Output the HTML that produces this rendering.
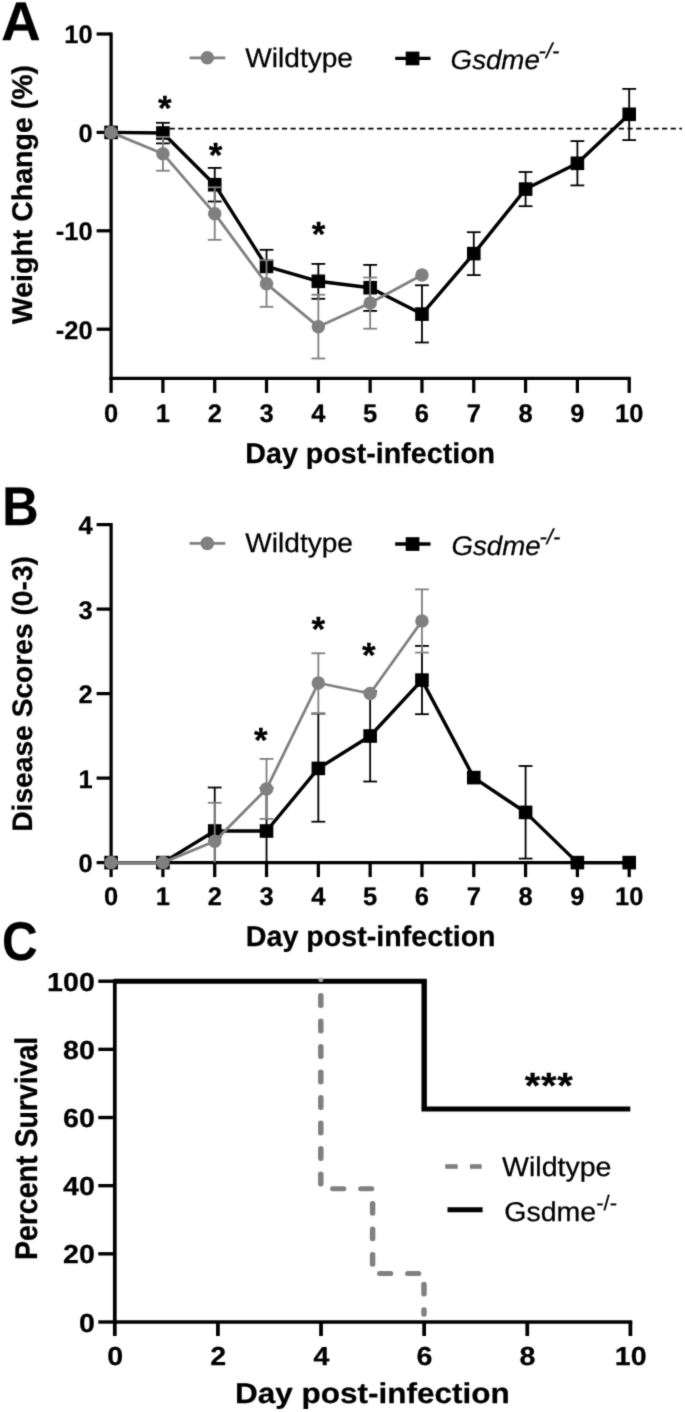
<!DOCTYPE html>
<html lang="en">
<head>
<meta charset="utf-8">
<title>Figure: weight change, disease scores and survival</title>
<style>
html,body{margin:0;padding:0;background:#fff;}
body{width:685px;height:1412px;overflow:hidden;}
svg{display:block;font-family:"Liberation Sans", Arial, Helvetica, sans-serif;will-change:transform;}
text{stroke:#000;stroke-width:0.25px;stroke-linejoin:round;}
</style>
</head>
<body>
<svg width="685" height="1412" viewBox="0 0 685 1412" shape-rendering="geometricPrecision" text-rendering="geometricPrecision">
<defs><filter id="soft" x="0" y="0" width="685" height="1412" filterUnits="userSpaceOnUse" color-interpolation-filters="sRGB"><feConvolveMatrix order="3" kernelMatrix="0.037 0.19 0.037 0.19 1 0.19 0.037 0.19 0.037" divisor="1.908" edgeMode="duplicate" preserveAlpha="true"/></filter></defs>
<g filter="url(#soft)">
<rect x="-5" y="-5" width="695" height="1422" fill="#fff"/>
<text transform="translate(1.30,40.00)" font-size="54.5" font-weight="bold" text-anchor="start" fill="#000" >A</text>
<text transform="translate(31.80,194.60) rotate(-90)" font-size="28.5" font-weight="bold" text-anchor="middle" fill="#000" >Weight Change (%)</text>
<line x1="111.10" y1="32.38" x2="111.10" y2="380.02" stroke="#000" stroke-width="3.25" />
<line x1="109.47" y1="378.40" x2="630.83" y2="378.40" stroke="#000" stroke-width="3.25" />
<line x1="96.60" y1="34.00" x2="111.10" y2="34.00" stroke="#000" stroke-width="3.25" />
<text transform="translate(92.60,43.40)" font-size="25.5" font-weight="bold" text-anchor="end" fill="#000" >10</text>
<line x1="96.60" y1="132.40" x2="111.10" y2="132.40" stroke="#000" stroke-width="3.25" />
<text transform="translate(92.60,141.80)" font-size="25.5" font-weight="bold" text-anchor="end" fill="#000" >0</text>
<line x1="96.60" y1="230.80" x2="111.10" y2="230.80" stroke="#000" stroke-width="3.25" />
<text transform="translate(92.60,240.20)" font-size="25.5" font-weight="bold" text-anchor="end" fill="#000" >-10</text>
<line x1="96.60" y1="329.20" x2="111.10" y2="329.20" stroke="#000" stroke-width="3.25" />
<text transform="translate(92.60,338.60)" font-size="25.5" font-weight="bold" text-anchor="end" fill="#000" >-20</text>
<line x1="111.10" y1="378.40" x2="111.10" y2="392.90" stroke="#000" stroke-width="3.25" />
<text transform="translate(111.10,422.10)" font-size="25.5" font-weight="bold" text-anchor="middle" fill="#000" >0</text>
<line x1="162.91" y1="378.40" x2="162.91" y2="392.90" stroke="#000" stroke-width="3.25" />
<text transform="translate(162.91,422.10)" font-size="25.5" font-weight="bold" text-anchor="middle" fill="#000" >1</text>
<line x1="214.72" y1="378.40" x2="214.72" y2="392.90" stroke="#000" stroke-width="3.25" />
<text transform="translate(214.72,422.10)" font-size="25.5" font-weight="bold" text-anchor="middle" fill="#000" >2</text>
<line x1="266.53" y1="378.40" x2="266.53" y2="392.90" stroke="#000" stroke-width="3.25" />
<text transform="translate(266.53,422.10)" font-size="25.5" font-weight="bold" text-anchor="middle" fill="#000" >3</text>
<line x1="318.34" y1="378.40" x2="318.34" y2="392.90" stroke="#000" stroke-width="3.25" />
<text transform="translate(318.34,422.10)" font-size="25.5" font-weight="bold" text-anchor="middle" fill="#000" >4</text>
<line x1="370.15" y1="378.40" x2="370.15" y2="392.90" stroke="#000" stroke-width="3.25" />
<text transform="translate(370.15,422.10)" font-size="25.5" font-weight="bold" text-anchor="middle" fill="#000" >5</text>
<line x1="421.96" y1="378.40" x2="421.96" y2="392.90" stroke="#000" stroke-width="3.25" />
<text transform="translate(421.96,422.10)" font-size="25.5" font-weight="bold" text-anchor="middle" fill="#000" >6</text>
<line x1="473.77" y1="378.40" x2="473.77" y2="392.90" stroke="#000" stroke-width="3.25" />
<text transform="translate(473.77,422.10)" font-size="25.5" font-weight="bold" text-anchor="middle" fill="#000" >7</text>
<line x1="525.58" y1="378.40" x2="525.58" y2="392.90" stroke="#000" stroke-width="3.25" />
<text transform="translate(525.58,422.10)" font-size="25.5" font-weight="bold" text-anchor="middle" fill="#000" >8</text>
<line x1="577.39" y1="378.40" x2="577.39" y2="392.90" stroke="#000" stroke-width="3.25" />
<text transform="translate(577.39,422.10)" font-size="25.5" font-weight="bold" text-anchor="middle" fill="#000" >9</text>
<line x1="629.20" y1="378.40" x2="629.20" y2="392.90" stroke="#000" stroke-width="3.25" />
<text transform="translate(629.20,422.10)" font-size="25.5" font-weight="bold" text-anchor="middle" fill="#000" >10</text>
<text transform="translate(370.20,463.00)" font-size="28.65" font-weight="bold" text-anchor="middle" fill="#000" >Day post-infection</text>
<line x1="160.98" y1="128.6" x2="682" y2="128.6" stroke="#000" stroke-width="1.7" stroke-dasharray="5.19 3.449"/>
<line x1="162.91" y1="122.80" x2="162.91" y2="143.40" stroke="#000" stroke-width="1.8" />
<line x1="156.01" y1="143.40" x2="169.81" y2="143.40" stroke="#000" stroke-width="1.8" />
<line x1="156.01" y1="122.80" x2="169.81" y2="122.80" stroke="#000" stroke-width="1.8" />
<line x1="214.72" y1="167.90" x2="214.72" y2="201.50" stroke="#000" stroke-width="1.8" />
<line x1="207.82" y1="201.50" x2="221.62" y2="201.50" stroke="#000" stroke-width="1.8" />
<line x1="207.82" y1="167.90" x2="221.62" y2="167.90" stroke="#000" stroke-width="1.8" />
<line x1="266.53" y1="249.80" x2="266.53" y2="266.40" stroke="#000" stroke-width="1.8" />
<line x1="259.63" y1="249.80" x2="273.43" y2="249.80" stroke="#000" stroke-width="1.8" />
<line x1="318.34" y1="263.90" x2="318.34" y2="298.80" stroke="#000" stroke-width="1.8" />
<line x1="311.44" y1="298.80" x2="325.24" y2="298.80" stroke="#000" stroke-width="1.8" />
<line x1="311.44" y1="263.90" x2="325.24" y2="263.90" stroke="#000" stroke-width="1.8" />
<line x1="370.15" y1="264.90" x2="370.15" y2="310.90" stroke="#000" stroke-width="1.8" />
<line x1="363.25" y1="310.90" x2="377.05" y2="310.90" stroke="#000" stroke-width="1.8" />
<line x1="363.25" y1="264.90" x2="377.05" y2="264.90" stroke="#000" stroke-width="1.8" />
<line x1="421.96" y1="285.30" x2="421.96" y2="342.50" stroke="#000" stroke-width="1.8" />
<line x1="415.06" y1="342.50" x2="428.86" y2="342.50" stroke="#000" stroke-width="1.8" />
<line x1="415.06" y1="285.30" x2="428.86" y2="285.30" stroke="#000" stroke-width="1.8" />
<line x1="473.77" y1="232.20" x2="473.77" y2="275.10" stroke="#000" stroke-width="1.8" />
<line x1="466.87" y1="275.10" x2="480.67" y2="275.10" stroke="#000" stroke-width="1.8" />
<line x1="466.87" y1="232.20" x2="480.67" y2="232.20" stroke="#000" stroke-width="1.8" />
<line x1="525.58" y1="172.00" x2="525.58" y2="206.20" stroke="#000" stroke-width="1.8" />
<line x1="518.68" y1="206.20" x2="532.48" y2="206.20" stroke="#000" stroke-width="1.8" />
<line x1="518.68" y1="172.00" x2="532.48" y2="172.00" stroke="#000" stroke-width="1.8" />
<line x1="577.39" y1="141.10" x2="577.39" y2="185.40" stroke="#000" stroke-width="1.8" />
<line x1="570.49" y1="185.40" x2="584.29" y2="185.40" stroke="#000" stroke-width="1.8" />
<line x1="570.49" y1="141.10" x2="584.29" y2="141.10" stroke="#000" stroke-width="1.8" />
<line x1="629.20" y1="88.90" x2="629.20" y2="140.10" stroke="#000" stroke-width="1.8" />
<line x1="622.30" y1="140.10" x2="636.10" y2="140.10" stroke="#000" stroke-width="1.8" />
<line x1="622.30" y1="88.90" x2="636.10" y2="88.90" stroke="#000" stroke-width="1.8" />
<polyline points="111.10,132.40 162.91,133.00 214.72,184.70 266.53,266.40 318.34,281.30 370.15,287.70 421.96,314.10 473.77,253.60 525.58,189.10 577.39,163.30 629.20,114.30" fill="none" stroke="#000" stroke-width="3.4" stroke-linejoin="round"/>
<rect x="104.30" y="125.60" width="13.6" height="13.6" fill="#000"/>
<rect x="156.11" y="126.20" width="13.6" height="13.6" fill="#000"/>
<rect x="207.92" y="177.90" width="13.6" height="13.6" fill="#000"/>
<rect x="259.73" y="259.60" width="13.6" height="13.6" fill="#000"/>
<rect x="311.54" y="274.50" width="13.6" height="13.6" fill="#000"/>
<rect x="363.35" y="280.90" width="13.6" height="13.6" fill="#000"/>
<rect x="415.16" y="307.30" width="13.6" height="13.6" fill="#000"/>
<rect x="466.97" y="246.80" width="13.6" height="13.6" fill="#000"/>
<rect x="518.78" y="182.30" width="13.6" height="13.6" fill="#000"/>
<rect x="570.59" y="156.50" width="13.6" height="13.6" fill="#000"/>
<rect x="622.40" y="107.50" width="13.6" height="13.6" fill="#000"/>
<line x1="162.91" y1="137.00" x2="162.91" y2="170.70" stroke="#808080" stroke-width="1.8" />
<line x1="156.01" y1="170.70" x2="169.81" y2="170.70" stroke="#808080" stroke-width="1.8" />
<line x1="156.01" y1="137.00" x2="169.81" y2="137.00" stroke="#808080" stroke-width="1.8" />
<line x1="214.72" y1="187.30" x2="214.72" y2="239.80" stroke="#808080" stroke-width="1.8" />
<line x1="207.82" y1="239.80" x2="221.62" y2="239.80" stroke="#808080" stroke-width="1.8" />
<line x1="207.82" y1="187.30" x2="221.62" y2="187.30" stroke="#808080" stroke-width="1.8" />
<line x1="266.53" y1="260.20" x2="266.53" y2="306.80" stroke="#808080" stroke-width="1.8" />
<line x1="259.63" y1="306.80" x2="273.43" y2="306.80" stroke="#808080" stroke-width="1.8" />
<line x1="259.63" y1="260.20" x2="273.43" y2="260.20" stroke="#808080" stroke-width="1.8" />
<line x1="318.34" y1="294.70" x2="318.34" y2="358.50" stroke="#808080" stroke-width="1.8" />
<line x1="311.44" y1="358.50" x2="325.24" y2="358.50" stroke="#808080" stroke-width="1.8" />
<line x1="311.44" y1="294.70" x2="325.24" y2="294.70" stroke="#808080" stroke-width="1.8" />
<line x1="370.15" y1="277.50" x2="370.15" y2="328.70" stroke="#808080" stroke-width="1.8" />
<line x1="363.25" y1="328.70" x2="377.05" y2="328.70" stroke="#808080" stroke-width="1.8" />
<line x1="363.25" y1="277.50" x2="377.05" y2="277.50" stroke="#808080" stroke-width="1.8" />
<polyline points="111.10,132.40 162.91,153.70 214.72,213.70 266.53,283.80 318.34,326.70 370.15,302.90 421.96,274.90" fill="none" stroke="#808080" stroke-width="2.8" stroke-linejoin="round"/>
<circle cx="111.10" cy="132.40" r="6.75" fill="#808080"/>
<circle cx="162.91" cy="153.70" r="6.75" fill="#808080"/>
<circle cx="214.72" cy="213.70" r="6.75" fill="#808080"/>
<circle cx="266.53" cy="283.80" r="6.75" fill="#808080"/>
<circle cx="318.34" cy="326.70" r="6.75" fill="#808080"/>
<circle cx="370.15" cy="302.90" r="6.75" fill="#808080"/>
<circle cx="421.96" cy="274.90" r="6.75" fill="#808080"/>
<text transform="translate(164.90,119.80)" font-size="35" font-weight="bold" text-anchor="middle" fill="#000" >*</text>
<text transform="translate(215.50,167.20)" font-size="35" font-weight="bold" text-anchor="middle" fill="#000" >*</text>
<text transform="translate(318.60,246.40)" font-size="35" font-weight="bold" text-anchor="middle" fill="#000" >*</text>
<line x1="189.60" y1="57.80" x2="225.30" y2="57.80" stroke="#808080" stroke-width="2.8" />
<circle cx="207.3" cy="57.80" r="6.8" fill="#808080"/>
<text transform="translate(245.30,66.60) scale(1.04,1)" font-size="27.0" font-weight="normal" text-anchor="start" fill="#000" >Wildtype</text>
<line x1="395.20" y1="58.40" x2="430.50" y2="58.40" stroke="#000" stroke-width="3.3" />
<rect x="405.7" y="51.60" width="13.7" height="13.7" fill="#000"/>
<text transform="translate(450.60,68.70) scale(1.025,1)" font-size="27" font-style="italic" fill="#000">Gsdme<tspan font-size="21.5" dy="-10.8" dx="-1.2">-/-</tspan></text>
<text transform="translate(2.20,524.60) scale(0.922,1)" font-size="54.5" font-weight="bold" text-anchor="start" fill="#000" >B</text>
<text transform="translate(31.80,693.90) rotate(-90)" font-size="28.2" font-weight="bold" text-anchor="middle" fill="#000" >Disease Scores (0-3)</text>
<line x1="111.10" y1="522.98" x2="111.10" y2="864.23" stroke="#000" stroke-width="3.25" />
<line x1="109.47" y1="862.60" x2="630.83" y2="862.60" stroke="#000" stroke-width="3.25" />
<line x1="96.60" y1="862.60" x2="111.10" y2="862.60" stroke="#000" stroke-width="3.25" />
<text transform="translate(92.60,872.00)" font-size="25.5" font-weight="bold" text-anchor="end" fill="#000" >0</text>
<line x1="96.60" y1="778.10" x2="111.10" y2="778.10" stroke="#000" stroke-width="3.25" />
<text transform="translate(92.60,787.50)" font-size="25.5" font-weight="bold" text-anchor="end" fill="#000" >1</text>
<line x1="96.60" y1="693.60" x2="111.10" y2="693.60" stroke="#000" stroke-width="3.25" />
<text transform="translate(92.60,703.00)" font-size="25.5" font-weight="bold" text-anchor="end" fill="#000" >2</text>
<line x1="96.60" y1="609.10" x2="111.10" y2="609.10" stroke="#000" stroke-width="3.25" />
<text transform="translate(92.60,618.50)" font-size="25.5" font-weight="bold" text-anchor="end" fill="#000" >3</text>
<line x1="96.60" y1="524.60" x2="111.10" y2="524.60" stroke="#000" stroke-width="3.25" />
<text transform="translate(92.60,534.00)" font-size="25.5" font-weight="bold" text-anchor="end" fill="#000" >4</text>
<line x1="111.10" y1="862.60" x2="111.10" y2="877.10" stroke="#000" stroke-width="3.25" />
<text transform="translate(111.10,905.40)" font-size="25.5" font-weight="bold" text-anchor="middle" fill="#000" >0</text>
<line x1="162.91" y1="862.60" x2="162.91" y2="877.10" stroke="#000" stroke-width="3.25" />
<text transform="translate(162.91,905.40)" font-size="25.5" font-weight="bold" text-anchor="middle" fill="#000" >1</text>
<line x1="214.72" y1="862.60" x2="214.72" y2="877.10" stroke="#000" stroke-width="3.25" />
<text transform="translate(214.72,905.40)" font-size="25.5" font-weight="bold" text-anchor="middle" fill="#000" >2</text>
<line x1="266.53" y1="862.60" x2="266.53" y2="877.10" stroke="#000" stroke-width="3.25" />
<text transform="translate(266.53,905.40)" font-size="25.5" font-weight="bold" text-anchor="middle" fill="#000" >3</text>
<line x1="318.34" y1="862.60" x2="318.34" y2="877.10" stroke="#000" stroke-width="3.25" />
<text transform="translate(318.34,905.40)" font-size="25.5" font-weight="bold" text-anchor="middle" fill="#000" >4</text>
<line x1="370.15" y1="862.60" x2="370.15" y2="877.10" stroke="#000" stroke-width="3.25" />
<text transform="translate(370.15,905.40)" font-size="25.5" font-weight="bold" text-anchor="middle" fill="#000" >5</text>
<line x1="421.96" y1="862.60" x2="421.96" y2="877.10" stroke="#000" stroke-width="3.25" />
<text transform="translate(421.96,905.40)" font-size="25.5" font-weight="bold" text-anchor="middle" fill="#000" >6</text>
<line x1="473.77" y1="862.60" x2="473.77" y2="877.10" stroke="#000" stroke-width="3.25" />
<text transform="translate(473.77,905.40)" font-size="25.5" font-weight="bold" text-anchor="middle" fill="#000" >7</text>
<line x1="525.58" y1="862.60" x2="525.58" y2="877.10" stroke="#000" stroke-width="3.25" />
<text transform="translate(525.58,905.40)" font-size="25.5" font-weight="bold" text-anchor="middle" fill="#000" >8</text>
<line x1="577.39" y1="862.60" x2="577.39" y2="877.10" stroke="#000" stroke-width="3.25" />
<text transform="translate(577.39,905.40)" font-size="25.5" font-weight="bold" text-anchor="middle" fill="#000" >9</text>
<line x1="629.20" y1="862.60" x2="629.20" y2="877.10" stroke="#000" stroke-width="3.25" />
<text transform="translate(629.20,905.40)" font-size="25.5" font-weight="bold" text-anchor="middle" fill="#000" >10</text>
<text transform="translate(370.70,946.10)" font-size="28.65" font-weight="bold" text-anchor="middle" fill="#000" >Day post-infection</text>
<line x1="214.72" y1="787.50" x2="214.72" y2="862.60" stroke="#000" stroke-width="1.8" />
<line x1="207.82" y1="787.50" x2="221.62" y2="787.50" stroke="#000" stroke-width="1.8" />
<line x1="266.53" y1="788.00" x2="266.53" y2="862.60" stroke="#000" stroke-width="1.8" />
<line x1="259.63" y1="788.00" x2="273.43" y2="788.00" stroke="#000" stroke-width="1.8" />
<line x1="318.34" y1="713.60" x2="318.34" y2="821.70" stroke="#000" stroke-width="1.8" />
<line x1="311.44" y1="821.70" x2="325.24" y2="821.70" stroke="#000" stroke-width="1.8" />
<line x1="311.44" y1="713.60" x2="325.24" y2="713.60" stroke="#000" stroke-width="1.8" />
<line x1="370.15" y1="691.30" x2="370.15" y2="781.50" stroke="#000" stroke-width="1.8" />
<line x1="363.25" y1="781.50" x2="377.05" y2="781.50" stroke="#000" stroke-width="1.8" />
<line x1="363.25" y1="691.30" x2="377.05" y2="691.30" stroke="#000" stroke-width="1.8" />
<line x1="421.96" y1="645.90" x2="421.96" y2="714.20" stroke="#000" stroke-width="1.8" />
<line x1="415.06" y1="714.20" x2="428.86" y2="714.20" stroke="#000" stroke-width="1.8" />
<line x1="415.06" y1="645.90" x2="428.86" y2="645.90" stroke="#000" stroke-width="1.8" />
<line x1="525.58" y1="766.00" x2="525.58" y2="858.60" stroke="#000" stroke-width="1.8" />
<line x1="518.68" y1="858.60" x2="532.48" y2="858.60" stroke="#000" stroke-width="1.8" />
<line x1="518.68" y1="766.00" x2="532.48" y2="766.00" stroke="#000" stroke-width="1.8" />
<polyline points="111.10,862.60 162.91,862.60 214.72,831.00 266.53,831.00 318.34,768.40 370.15,736.00 421.96,680.10 473.77,777.60 525.58,812.40 577.39,862.60 629.20,862.60" fill="none" stroke="#000" stroke-width="3.4" stroke-linejoin="round"/>
<rect x="104.30" y="855.80" width="13.6" height="13.6" fill="#000"/>
<rect x="156.11" y="855.80" width="13.6" height="13.6" fill="#000"/>
<rect x="207.92" y="824.20" width="13.6" height="13.6" fill="#000"/>
<rect x="259.73" y="824.20" width="13.6" height="13.6" fill="#000"/>
<rect x="311.54" y="761.60" width="13.6" height="13.6" fill="#000"/>
<rect x="363.35" y="729.20" width="13.6" height="13.6" fill="#000"/>
<rect x="415.16" y="673.30" width="13.6" height="13.6" fill="#000"/>
<rect x="466.97" y="770.80" width="13.6" height="13.6" fill="#000"/>
<rect x="518.78" y="805.60" width="13.6" height="13.6" fill="#000"/>
<rect x="570.59" y="855.80" width="13.6" height="13.6" fill="#000"/>
<rect x="622.40" y="855.80" width="13.6" height="13.6" fill="#000"/>
<line x1="214.72" y1="802.80" x2="214.72" y2="862.60" stroke="#808080" stroke-width="1.8" />
<line x1="207.82" y1="802.80" x2="221.62" y2="802.80" stroke="#808080" stroke-width="1.8" />
<line x1="266.53" y1="758.90" x2="266.53" y2="818.90" stroke="#808080" stroke-width="1.8" />
<line x1="259.63" y1="818.90" x2="273.43" y2="818.90" stroke="#808080" stroke-width="1.8" />
<line x1="259.63" y1="758.90" x2="273.43" y2="758.90" stroke="#808080" stroke-width="1.8" />
<line x1="318.34" y1="653.30" x2="318.34" y2="713.40" stroke="#808080" stroke-width="1.8" />
<line x1="311.44" y1="713.40" x2="325.24" y2="713.40" stroke="#808080" stroke-width="1.8" />
<line x1="311.44" y1="653.30" x2="325.24" y2="653.30" stroke="#808080" stroke-width="1.8" />
<line x1="421.96" y1="589.40" x2="421.96" y2="652.60" stroke="#808080" stroke-width="1.8" />
<line x1="415.06" y1="652.60" x2="428.86" y2="652.60" stroke="#808080" stroke-width="1.8" />
<line x1="415.06" y1="589.40" x2="428.86" y2="589.40" stroke="#808080" stroke-width="1.8" />
<polyline points="111.10,862.60 162.91,862.60 214.72,841.20 266.53,788.90 318.34,683.00 370.15,693.50 421.96,621.00" fill="none" stroke="#808080" stroke-width="2.8" stroke-linejoin="round"/>
<circle cx="111.10" cy="862.60" r="6.75" fill="#808080"/>
<circle cx="162.91" cy="862.60" r="6.75" fill="#808080"/>
<circle cx="214.72" cy="841.20" r="6.75" fill="#808080"/>
<circle cx="266.53" cy="788.90" r="6.75" fill="#808080"/>
<circle cx="318.34" cy="683.00" r="6.75" fill="#808080"/>
<circle cx="370.15" cy="693.50" r="6.75" fill="#808080"/>
<circle cx="421.96" cy="621.00" r="6.75" fill="#808080"/>
<text transform="translate(260.70,752.00)" font-size="35" font-weight="bold" text-anchor="middle" fill="#000" >*</text>
<text transform="translate(318.40,640.50)" font-size="35" font-weight="bold" text-anchor="middle" fill="#000" >*</text>
<text transform="translate(368.70,666.60)" font-size="35" font-weight="bold" text-anchor="middle" fill="#000" >*</text>
<line x1="189.60" y1="543.40" x2="225.30" y2="543.40" stroke="#808080" stroke-width="2.8" />
<circle cx="207.3" cy="543.40" r="6.8" fill="#808080"/>
<text transform="translate(245.30,552.20) scale(1.04,1)" font-size="27.0" font-weight="normal" text-anchor="start" fill="#000" >Wildtype</text>
<line x1="395.20" y1="544.00" x2="430.50" y2="544.00" stroke="#000" stroke-width="3.3" />
<rect x="405.7" y="537.20" width="13.7" height="13.7" fill="#000"/>
<text transform="translate(451.50,555.00) scale(1.025,1)" font-size="27" font-style="italic" fill="#000">Gsdme<tspan font-size="21.5" dy="-10.8" dx="-1.2">-/-</tspan></text>
<text transform="translate(2.00,960.00) scale(0.905,1)" font-size="54.5" font-weight="bold" text-anchor="start" fill="#000" >C</text>
<g transform="scale(1.1,1)">
<text transform="translate(33.45,1148.40) rotate(-90)" font-size="28.5" font-weight="bold" text-anchor="middle" fill="#000" >Percent Survival</text>
<line x1="104.36" y1="979.50" x2="104.36" y2="1336.00" stroke="#000" stroke-width="3.4" />
<line x1="102.66" y1="1322.00" x2="574.79" y2="1322.00" stroke="#000" stroke-width="3.4" />
<line x1="89.36" y1="1322.00" x2="104.36" y2="1322.00" stroke="#000" stroke-width="3.4" />
<text transform="translate(86.18,1331.60)" font-size="26" font-weight="bold" text-anchor="end" fill="#000" >0</text>
<line x1="89.36" y1="1253.84" x2="104.36" y2="1253.84" stroke="#000" stroke-width="3.4" />
<text transform="translate(86.18,1263.44)" font-size="26" font-weight="bold" text-anchor="end" fill="#000" >20</text>
<line x1="89.36" y1="1185.68" x2="104.36" y2="1185.68" stroke="#000" stroke-width="3.4" />
<text transform="translate(86.18,1195.28)" font-size="26" font-weight="bold" text-anchor="end" fill="#000" >40</text>
<line x1="89.36" y1="1117.52" x2="104.36" y2="1117.52" stroke="#000" stroke-width="3.4" />
<text transform="translate(86.18,1127.12)" font-size="26" font-weight="bold" text-anchor="end" fill="#000" >60</text>
<line x1="89.36" y1="1049.36" x2="104.36" y2="1049.36" stroke="#000" stroke-width="3.4" />
<text transform="translate(86.18,1058.96)" font-size="26" font-weight="bold" text-anchor="end" fill="#000" >80</text>
<line x1="89.36" y1="981.20" x2="104.36" y2="981.20" stroke="#000" stroke-width="3.4" />
<text transform="translate(86.18,990.80)" font-size="26" font-weight="bold" text-anchor="end" fill="#000" >100</text>
<line x1="198.11" y1="1322.00" x2="198.11" y2="1336.00" stroke="#000" stroke-width="3.4" />
<line x1="291.85" y1="1322.00" x2="291.85" y2="1336.00" stroke="#000" stroke-width="3.4" />
<line x1="385.60" y1="1322.00" x2="385.60" y2="1336.00" stroke="#000" stroke-width="3.4" />
<line x1="479.35" y1="1322.00" x2="479.35" y2="1336.00" stroke="#000" stroke-width="3.4" />
<line x1="573.09" y1="1322.00" x2="573.09" y2="1336.00" stroke="#000" stroke-width="3.4" />
<text transform="translate(104.64,1365.00)" font-size="26" font-weight="bold" text-anchor="middle" fill="#000" >0</text>
<text transform="translate(198.38,1365.00)" font-size="26" font-weight="bold" text-anchor="middle" fill="#000" >2</text>
<text transform="translate(292.13,1365.00)" font-size="26" font-weight="bold" text-anchor="middle" fill="#000" >4</text>
<text transform="translate(385.87,1365.00)" font-size="26" font-weight="bold" text-anchor="middle" fill="#000" >6</text>
<text transform="translate(479.62,1365.00)" font-size="26" font-weight="bold" text-anchor="middle" fill="#000" >8</text>
<text transform="translate(573.36,1365.00)" font-size="26" font-weight="bold" text-anchor="middle" fill="#000" >10</text>
<text transform="translate(338.55,1402.70)" font-size="28.65" font-weight="bold" text-anchor="middle" fill="#000" >Day post-infection</text>
<path d="M103.45,981.20 H385.60 V1109.00 H573.00" fill="none" stroke="#000" stroke-width="4.9" stroke-linejoin="miter"/>
<path d="M291.64,981.20 V1188.7 H338.73 V1273.5 H385.45 V1314.2" fill="none" stroke="#808080" stroke-width="5" stroke-linecap="round" stroke-linejoin="round" stroke-dasharray="9.8 15.7" stroke-dashoffset="11.1"/>
<circle cx="291.64" cy="979.7" r="2.3" fill="#a8a8a8"/>
</g>
<text transform="translate(549.20,1097.90) scale(1.1,1)" font-size="36.4" font-weight="bold" text-anchor="middle" fill="#000" letter-spacing="0.7">***</text>
<line x1="445.20" y1="1166.50" x2="457.70" y2="1166.50" stroke="#808080" stroke-width="4.6" />
<line x1="470.00" y1="1166.50" x2="481.70" y2="1166.50" stroke="#808080" stroke-width="4.6" />
<line x1="447.50" y1="1209.80" x2="482.60" y2="1209.80" stroke="#000" stroke-width="4.9" />
<text transform="translate(502.00,1175.60) scale(1.05,1)" font-size="27.2" font-weight="normal" text-anchor="start" fill="#000" >Wildtype</text>
<text transform="translate(504.2,1220.8) scale(1.05,1)" font-size="27.2" fill="#000">Gsdme<tspan font-size="21" dy="-10.5">-/-</tspan></text>
</g>
</svg>
</body>
</html>
